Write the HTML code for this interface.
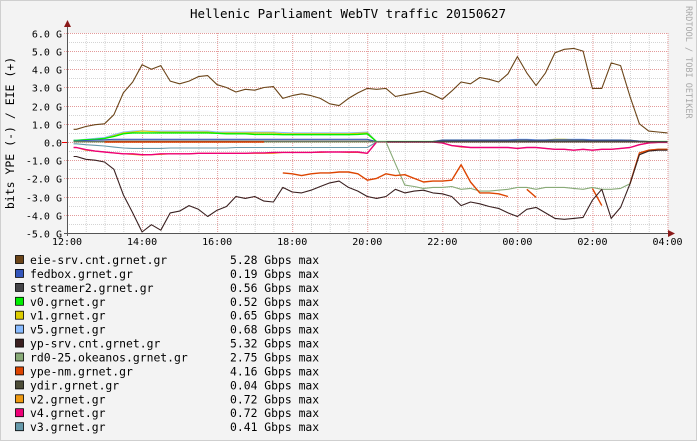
<!DOCTYPE html>
<html><head><meta charset="utf-8"><style>
body{margin:0;background:#f3f3f3}
svg{display:block}
text{font-family:"DejaVu Sans Mono","Liberation Mono",monospace}
</style></head><body>
<svg id="chart" width="697" height="441" viewBox="0 0 697 441" xmlns="http://www.w3.org/2000/svg">
<rect x="0.5" y="0.5" width="696" height="440" fill="#f3f3f3" stroke="#cfcfcf"/>
<rect x="67" y="33" width="601" height="200" fill="#ffffff"/>
<g id="grid"></g>
<g id="series"></g>
<g id="axes"></g>
<text x="348" y="18" font-size="12.5" text-anchor="middle" fill="#000">Hellenic Parliament WebTV traffic 20150627</text>
<text transform="translate(14,133) rotate(-90)" font-size="11.5" text-anchor="middle" fill="#000">bits YPE (-) / EIE (+)</text>
<text transform="translate(686,6) rotate(90)" font-size="8.5" fill="#a8a8a8">RRDTOOL / TOBI OETIKER</text>
<g id="legend"></g>
</svg>
<script>
const yTicks=[6,5,4,3,2,1,0,-1,-2,-3,-4,-5];
const yTickLabels=["6.0 G","5.0 G","4.0 G","3.0 G","2.0 G","1.0 G","0.0","-1.0 G","-2.0 G","-3.0 G","-4.0 G","-5.0 G"];
const xTickLabels=["12:00","14:00","16:00","18:00","20:00","22:00","00:00","02:00","04:00"];
const seriesNames=["eie-srv.cnt.grnet.gr","fedbox.grnet.gr","streamer2.grnet.gr","v0.grnet.gr","v1.grnet.gr","v5.grnet.gr","yp-srv.cnt.grnet.gr","rd0-25.okeanos.grnet.gr","ype-nm.grnet.gr","ydir.grnet.gr","v2.grnet.gr","v4.grnet.gr","v3.grnet.gr"];
const seriesMax=["5.28","0.19","0.56","0.52","0.65","0.68","5.32","2.75","4.16","0.04","0.72","0.72","0.41"];
const seriesColors=["#6b4418","#3355bb","#444448","#00ee00","#ddcc00","#88bbff","#3a2020","#88aa77","#dd4400","#4d4d38","#ee9911","#ee0077","#6699aa"];
const N=null;
// values in Gbps, every 15 min from 12:00 to 04:00
const eie=[N,0.7,0.85,0.95,1.0,1.5,2.7,3.3,4.25,4.0,4.2,3.35,3.2,3.35,3.6,3.65,3.15,3.0,2.75,2.9,2.85,3.0,3.05,2.4,2.55,2.65,2.55,2.4,2.1,2.0,2.4,2.7,2.95,2.9,2.95,2.5,2.6,2.7,2.8,2.6,2.35,2.8,3.3,3.2,3.55,3.45,3.3,3.75,4.7,3.8,3.1,3.8,4.9,5.1,5.15,5.0,2.95,2.95,4.35,4.2,2.5,1.0,0.6,0.55,0.5];
const fedbox=[N,0.05,0.08,0.1,0.12,0.15,0.15,0.15,0.15,0.15,0.15,0.15,0.15,0.15,0.15,0.15,0.15,0.15,0.15,0.15,0.15,0.15,0.15,0.15,0.15,0.15,0.15,0.15,0.15,0.15,0.15,0.15,0.15,0.02,0.02,0.02,0.02,0.02,0.02,0.02,0.1,0.1,0.1,0.1,0.1,0.1,0.1,0.1,0.12,0.12,0.1,0.1,0.12,0.12,0.12,0.12,0.1,0.1,0.1,0.1,0.1,0.05,0.02,0.02,0.02];
const streamer2=[N,0.03,0.03,0.03,0.04,0.05,0.05,0.05,0.05,0.05,0.05,0.05,0.05,0.05,0.05,0.05,0.05,0.05,0.05,0.05,0.05,0.05,0.05,0.05,0.05,0.05,0.05,0.05,0.05,0.05,0.05,0.05,0.05,0.02,0.02,0.02,0.02,0.02,0.02,0.02,0.05,0.05,0.05,0.05,0.05,0.05,0.05,0.05,0.05,0.05,0.05,0.05,0.05,0.05,0.05,0.05,0.05,0.05,0.05,0.05,0.05,0.03,0.02,0.02,0.02];
const v0=[N,0.08,0.12,0.15,0.2,0.3,0.45,0.5,0.5,0.5,0.5,0.5,0.5,0.5,0.5,0.5,0.48,0.45,0.45,0.45,0.42,0.42,0.42,0.4,0.4,0.4,0.4,0.4,0.4,0.4,0.4,0.42,0.45,0.02,0.02,0.02,0.02,0.02,0.02,0.02,0.05,0.05,0.05,0.05,0.05,0.05,0.05,0.05,0.05,0.05,0.05,0.05,0.05,0.05,0.05,0.05,0.05,0.05,0.05,0.05,0.05,0.03,0.02,0.02,0.02];
const v1=[N,0.08,0.12,0.15,0.2,0.35,0.5,0.55,0.6,0.58,0.55,0.55,0.55,0.55,0.55,0.55,0.5,0.5,0.5,0.5,0.5,0.5,0.5,0.45,0.45,0.45,0.45,0.45,0.45,0.45,0.45,0.48,0.5,0.02,0.02,0.02,0.02,0.02,0.02,0.02,0.1,0.1,0.1,0.1,0.1,0.1,0.1,0.1,0.12,0.12,0.1,0.1,0.15,0.15,0.12,0.12,0.1,0.1,0.1,0.1,0.1,0.05,0.02,0.02,0.02];
const v5=[N,0.1,0.15,0.2,0.25,0.4,0.55,0.6,0.62,0.6,0.6,0.6,0.6,0.6,0.6,0.6,0.55,0.55,0.55,0.55,0.55,0.55,0.55,0.52,0.5,0.5,0.5,0.5,0.5,0.5,0.5,0.52,0.55,0.03,0.03,0.03,0.03,0.03,0.03,0.03,0.12,0.12,0.12,0.12,0.12,0.12,0.12,0.12,0.15,0.15,0.12,0.12,0.15,0.15,0.15,0.15,0.12,0.12,0.12,0.12,0.1,0.05,0.02,0.02,0.02];
const yp=[N,-0.8,-0.95,-1.0,-1.1,-1.5,-2.9,-3.9,-4.95,-4.55,-4.85,-3.9,-3.8,-3.5,-3.7,-4.1,-3.75,-3.55,-3.0,-3.1,-3.0,-3.25,-3.3,-2.5,-2.75,-2.8,-2.65,-2.45,-2.25,-2.15,-2.5,-2.7,-3.0,-3.1,-3.0,-2.6,-2.8,-2.7,-2.65,-2.8,-2.85,-3.0,-3.5,-3.3,-3.4,-3.55,-3.65,-3.9,-4.1,-3.7,-3.6,-3.9,-4.2,-4.25,-4.2,-4.15,-3.2,-2.6,-4.2,-3.6,-2.3,-0.7,-0.5,-0.45,-0.45];
const rd0=[N,0,0,0,0,0,0,0,0,0,0,0,0,0,0,0,0,0,0,0,0,0,0,0,0,0,0,0,0,0,0,0,0,0,0,-1.2,-2.37,-2.45,-2.55,-2.5,-2.5,-2.45,-2.6,-2.55,-2.7,-2.7,-2.65,-2.6,-2.5,-2.5,-2.6,-2.5,-2.5,-2.5,-2.55,-2.6,-2.5,-2.6,-2.6,-2.55,-2.3,-0.7,-0.45,-0.4,-0.4];
const ypenm=[N,N,N,N,0,0,0,0,0,0,0,0,0,0,0,0,0,0,0,0,0,0,N,-1.7,-1.75,-1.85,-1.75,-1.7,-1.7,-1.65,-1.65,-1.75,-2.1,-2.0,-1.75,-1.85,-1.8,-2.0,-2.2,-2.15,-2.15,-2.1,-1.25,-2.2,-2.8,-2.8,-2.85,-3.0,N,-2.6,-3.05,N,N,N,N,N,-2.55,-3.5,N,N,-2.3,-0.6,-0.45,-0.4,-0.4];
const ydir=[N,0,0,0,0,0,0,0,0,0,0,0,0,0,0,0,0,0,0,0,0,0,0,0,0,0,0,0,0,0,0,0,0,0,0,0,0,0,0,0,0,0,0,0,0,0,0,0,0,0,0,0,0,0,0,0,0,0,0,0,0,0,0,0,0];
const v2=[N,-0.3,-0.45,-0.5,-0.55,-0.6,-0.65,-0.68,-0.72,-0.7,-0.68,-0.65,-0.65,-0.65,-0.62,-0.62,-0.62,-0.62,-0.62,-0.62,-0.62,-0.62,-0.62,-0.57,-0.57,-0.57,-0.57,-0.57,-0.55,-0.55,-0.57,-0.57,-0.62,0,0,0,0,0,0,0,-0.05,-0.2,-0.28,-0.3,-0.3,-0.3,-0.3,-0.3,-0.35,-0.3,-0.3,-0.35,-0.4,-0.4,-0.45,-0.4,-0.45,-0.4,-0.4,-0.35,-0.3,-0.15,-0.05,-0.02,-0.02];
const v4=[N,-0.3,-0.42,-0.5,-0.55,-0.6,-0.65,-0.65,-0.7,-0.7,-0.65,-0.65,-0.65,-0.65,-0.62,-0.62,-0.62,-0.62,-0.62,-0.62,-0.6,-0.6,-0.57,-0.57,-0.57,-0.57,-0.57,-0.55,-0.55,-0.55,-0.55,-0.55,-0.62,0,0,0,0,0,0,0,-0.05,-0.2,-0.25,-0.3,-0.3,-0.3,-0.3,-0.3,-0.35,-0.3,-0.3,-0.35,-0.4,-0.4,-0.45,-0.4,-0.45,-0.4,-0.4,-0.35,-0.3,-0.15,-0.05,-0.02,-0.02];
const v3=[N,-0.1,-0.15,-0.18,-0.22,-0.28,-0.33,-0.35,-0.35,-0.35,-0.35,-0.33,-0.33,-0.33,-0.33,-0.33,-0.33,-0.33,-0.3,-0.3,-0.3,-0.3,-0.3,-0.3,-0.3,-0.3,-0.3,-0.3,-0.3,-0.3,-0.3,-0.3,-0.3,0,0,0,0,0,0,0,0,0,0,0,0,0,0,0,0,0,0,0,0,0,0,0,0,0,0,0,0,0,0,0,0];
const seriesData=[eie,fedbox,streamer2,v0,v1,v5,yp,rd0,ypenm,ydir,v2,v4,v3];
const drawOrder=[12,10,11,5,4,3,1,2,9,7,8,6,0];

const NS="http://www.w3.org/2000/svg";
const X0=67,X1=667.5,HOURS=16,Y0=142,PXG=18.18;
const xs=i=>X0+(i*0.25)*(X1-X0)/HOURS;
const xh=h=>X0+h*(X1-X0)/HOURS;
const ys=v=>Y0-v*PXG;
function mk(tag,attrs,parent){const e=document.createElementNS(NS,tag);for(const k in attrs)e.setAttribute(k,attrs[k]);parent.appendChild(e);return e;}
const grid=document.getElementById('grid'),axes=document.getElementById('axes'),ser=document.getElementById('series'),leg=document.getElementById('legend');
for(let h=0.5;h<HOURS;h+=0.5){if(h%2===0)continue;const l=mk('line',{x1:xh(h)+0.5,x2:xh(h)+0.5,y1:33,y2:233,stroke:'#d4d4d4','stroke-dasharray':'1,1'},grid);}
for(let v=-4.5;v<6;v+=1){const l=mk('line',{x1:67,x2:668,y1:Math.round(ys(v))+0.5,y2:Math.round(ys(v))+0.5,stroke:'#d4d4d4','stroke-dasharray':'1,1'},grid);}
for(let h=2;h<=HOURS;h+=2){const l=mk('line',{x1:xh(h)+0.5,x2:xh(h)+0.5,y1:33,y2:233,stroke:'#e39a9a','stroke-dasharray':'1,1'},grid);}
yTicks.forEach((v,i)=>{const y=Math.round(ys(v))+0.5;const l=mk('line',{x1:64,x2:668,y1:y,y2:y,stroke:'#e39a9a','stroke-dasharray':'1,1'},grid);
const t=mk('text',{x:62,y:y+4,'font-size':'10','text-anchor':'end',fill:'#000'},axes);t.textContent=yTickLabels[i];});
xTickLabels.forEach((s,i)=>{const x=xh(i*2);const t=mk('text',{x:x,y:245,'font-size':'10','text-anchor':'middle',fill:'#000'},axes);t.textContent=s;});
drawOrder.forEach(k=>{const d=seriesData[k];let segs=[],cur=[];
d.forEach((v,i)=>{if(v===null){if(cur.length)segs.push(cur);cur=[];}else{ if(!cur.length&&i===1)cur.push([xs(0.7),ys(v)]); cur.push([xs(i),ys(v)]);}});
if(cur.length)segs.push(cur);
segs.forEach(sg=>{const p=mk('polyline',{points:sg.map(q=>q[0].toFixed(1)+','+q[1].toFixed(1)).join(' '),fill:'none',stroke:seriesColors[k],'stroke-width':(k===8||k===11||k===3)?1.4:1.1,'stroke-linejoin':'round'},ser);});});
const ax=mk('line',{x1:67.5,x2:67.5,y1:24,y2:236,stroke:'#555','stroke-width':1},axes);
const axx=mk('line',{x1:64,x2:670,y1:233.5,y2:233.5,stroke:'#555','stroke-width':1},axes);
const a1=mk('polygon',{points:'64,27 71,27 67.5,20',fill:'#8b1a1a'},axes);
const a2=mk('polygon',{points:'668,230 668,237 675,233.5',fill:'#8b1a1a'},axes);
const zr=mk('line',{x1:62,x2:67,y1:142.5,y2:142.5,stroke:'#ee0000'},axes);
seriesNames.forEach((n,i)=>{const y=260+i*13.93;
const g=mk('g',{},leg);
const r=mk('rect',{x:15.5,y:(y-4.5).toFixed(1),width:8,height:8,fill:seriesColors[i],stroke:'#000','stroke-width':0.8},g);
const t=mk('text',{x:30,y:(y+4).toFixed(1),'font-size':'11.4',fill:'#000'},g);t.textContent=n;
const t2=mk('text',{x:230,y:(y+4).toFixed(1),'font-size':'11.4',fill:'#000','xml:space':'preserve'},g);t2.textContent=seriesMax[i]+' Gbps max';});
</script>
</body></html>
